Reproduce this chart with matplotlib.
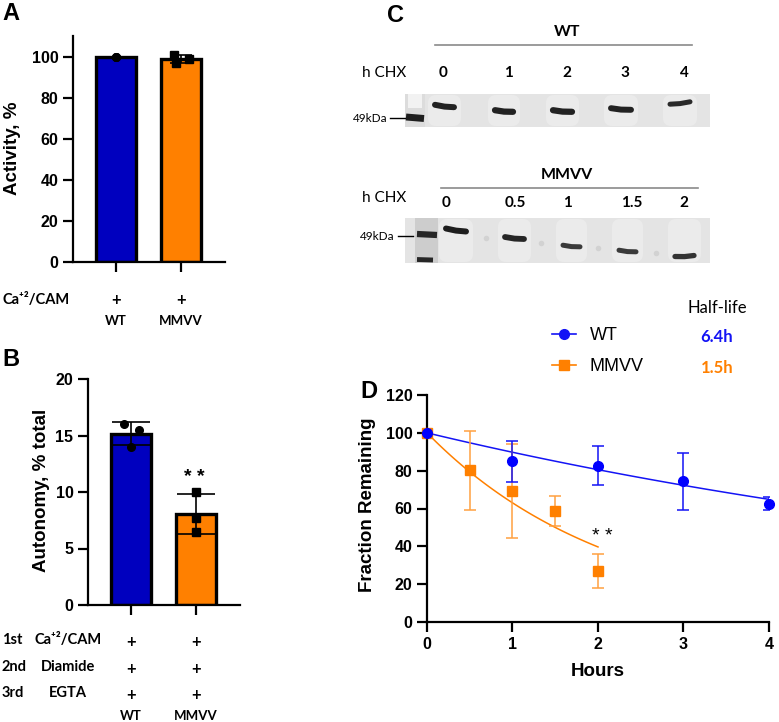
import numpy as np
import matplotlib.pyplot as plt
from matplotlib import transforms
from matplotlib.lines import Line2D
from matplotlib.patches import Rectangle, FancyBboxPatch

plt.rcParams['font.family'] = ['Liberation Sans', 'DejaVu Sans']

# ---- data ----
groups = ['WT', 'MMVV']

# A: kinase activity with Ca/CaM (% of WT)
act_wt = [100.0, 100.0, 100.0]
act_mmvv = [101.0, 97.0, 99.0]

# B: autonomy after Ca/CaM -> diamide -> EGTA (% total)
auto_wt = [16.0, 15.5, 14.0]
auto_mmvv = [10.0, 7.7, 6.5]

# C: CHX chase lanes (hours)
wt_lanes = ['0', '1', '2', '3', '4']
mmvv_lanes = ['0', '0.5', '1', '1.5', '2']

# D: fraction remaining after CHX
hours_wt = [0, 1, 2, 3, 4]
frac_wt = [100.0, 84.9, 82.7, 74.3, 62.5]
sd_wt = [0.0, 10.7, 10.3, 15.3, 3.5]
hours_mmvv = [0, 0.5, 1, 1.5, 2]
frac_mmvv = [100.0, 80.2, 69.2, 58.5, 27.0]
sd_mmvv = [0.0, 21.0, 24.7, 8.0, 9.0]
hl_wt = 6.4
hl_mmvv = 1.5

BLUE = '#0000BF'
ORANGE = '#FF8000'
LBLUE = '#1414F5'
LORANGE = '#FFA040'
CAL = ['Lato', 'DejaVu Sans']

W, H = 779, 722
fig = plt.figure(figsize=(W / 100, H / 100), dpi=100)


def px_axes(l, t, r, b):
    return fig.add_axes([l / W, 1 - b / H, (r - l) / W, (b - t) / H])


# overlay in pixel coords for labels / blots
ax0 = fig.add_axes([0, 0, 1, 1], zorder=0)
ax0.set_xlim(0, W)
ax0.set_ylim(H, 0)
ax0.axis('off')


def style_axes(ax, xticks, yticks, xlabels=True):
    for s in ['top', 'right']:
        ax.spines[s].set_visible(False)
    for s in ['left', 'bottom']:
        ax.spines[s].set_linewidth(1.6)
    ax.tick_params(axis='both', width=1.6, length=7)
    ax.set_yticks(yticks)
    ax.set_yticklabels([str(v) for v in yticks], fontsize=11.5, fontweight='bold')
    ax.set_xticks(xticks)
    if xlabels:
        ax.set_xticklabels([str(v) for v in xticks], fontsize=11.5, fontweight='bold')
    else:
        ax.set_xticklabels([])
    ax.patch.set_visible(False)


def bar_panel(ax, pts_list, markers, jit, ymax, yticks):
    x = np.arange(len(groups))
    means = [np.mean(p) for p in pts_list]
    sds = [np.std(p, ddof=1) for p in pts_list]
    ax.bar(x, means, width=0.61, color=[BLUE, ORANGE], edgecolor='black',
           linewidth=2.4, zorder=2)
    for i, pts in enumerate(pts_list):
        if sds[i] > 0:
            ax.errorbar(x[i], means[i], yerr=sds[i], color='black', lw=1.2,
                        capsize=14 if ymax < 50 else 8, capthick=1.2, zorder=3)
        ax.plot(x[i] + np.array(jit[i]), pts, markers[i], color='black', ms=5.5,
                zorder=4, clip_on=False)
    ax.set_xlim(-0.66, 1.68)
    ax.set_ylim(0, ymax)
    style_axes(ax, x, yticks, xlabels=False)
    return x, means


# ---- A ----
axA = px_axes(73, 36.4, 225, 262)
bar_panel(axA, [act_wt, act_mmvv], ['o', 's'], [[0, 0, 0], [-0.1, -0.08, 0.12]],
          110, [0, 20, 40, 60, 80, 100])
ax0.text(13, 148, 'Activity, %', rotation=90, ha='center', va='center',
         fontsize=13.5, fontweight='bold')
trA = transforms.blended_transform_factory(axA.transData, ax0.transData)
ax0.text(3, 300, 'Ca⁺²/CAM', ha='left', va='center', fontsize=10.5,
         fontweight='bold', family=CAL)
for i, g in enumerate(groups):
    ax0.text(i, 300, '+', transform=trA, ha='center', va='center',
             fontsize=12, fontweight='bold', family=CAL)
    ax0.text(i, 321, g, transform=trA, ha='center', va='center',
             fontsize=9.5, fontweight='bold', family=CAL)

# ---- B ----
axB = px_axes(88, 379, 240, 605)
xB, mB = bar_panel(axB, [auto_wt, auto_mmvv], ['o', 's'],
                   [[-0.1, 0.12, 0.0], [0, 0, 0]], 20, [0, 5, 10, 15, 20])
axB.text(0.98, 11.3, '* *', ha='center', va='center', fontsize=14, fontweight='bold')
ax0.text(42, 490, 'Autonomy, % total', rotation=90, ha='center', va='center',
         fontsize=13.5, fontweight='bold')
trB = transforms.blended_transform_factory(axB.transData, ax0.transData)
steps = ['1st', '2nd', '3rd']
agents = ['Ca⁺²/CAM', 'Diamide', 'EGTA']
rows_y = [640, 667, 693]
for s, a, y in zip(steps, agents, rows_y):
    ax0.text(2, y, s, ha='left', va='center', fontsize=10.5, fontweight='bold', family=CAL)
    ax0.text(68, y, a, ha='center', va='center', fontsize=10.5, fontweight='bold', family=CAL)
    for i in range(len(groups)):
        ax0.text(i, y + 2, '+', transform=trB, ha='center', va='center',
                 fontsize=12, fontweight='bold', family=CAL)
for i, g in enumerate(groups):
    ax0.text(i, 716, g, transform=trB, ha='center', va='center',
             fontsize=9.5, fontweight='bold', family=CAL)

# ---- C: western blots ----
def blot(box, bands, lanes, lane_x, lane_y, title, line, title_y, chx_y, kda_y, kda_r):
    l, t, r, b = box
    ax0.add_patch(Rectangle((l, t), r - l, b - t, color='#e4e4e4', lw=0, zorder=1))
    for (x0, x1, y, dy, lw, col) in bands:
        ax0.add_patch(FancyBboxPatch((x0 - 4, t + 1), x1 - x0 + 8, b - t - 2,
                                     boxstyle='round,pad=0,rounding_size=8',
                                     color='#ebebeb', lw=0, zorder=1.5))
        ax0.plot([x0 + 3, (x0 + x1) / 2, x1 - 3], [y - dy, y + 0.6, y + dy],
                 color=col, lw=lw, solid_capstyle='round', zorder=3)
    ax0.text(567, title_y, title, ha='center', va='center', fontsize=11.5,
             fontweight='bold', family=CAL)
    ax0.plot(line, [title_y + 13, title_y + 13], color='#8a8a8a', lw=1.2)
    ax0.text(406, chx_y, 'h CHX', ha='right', va='center', fontsize=11, family=CAL)
    for lab, x in zip(lanes, lane_x):
        ax0.text(x, lane_y, lab, ha='center', va='center', fontsize=11,
                 fontweight='bold', family=CAL)
    ax0.text(kda_r, kda_y, '49kDa', ha='right', va='center', fontsize=8.5, family=CAL)


blot((405, 94, 710, 127),
     [(432, 457, 106, 1.2, 4.3, '#222222'), (492, 516, 111, 0.8, 4.5, '#222222'),
      (550, 575, 111, 0.8, 4.5, '#222222'), (608, 634, 109, 0.8, 4.3, '#222222'),
      (667, 693, 103, -1.2, 3.6, '#2a2a2a')],
     wt_lanes, [443, 508, 567, 625, 684], 73, 'WT', [435, 692], 32, 73, 118, 388)
# ladder lane, blot 1
ax0.add_patch(Rectangle((405, 94), 20, 33, color='#dcdcdc', lw=0, zorder=1.6))
ax0.add_patch(Rectangle((408, 94), 14, 14, color='#f2f2f2', lw=0, zorder=1.7))
ax0.plot([406, 424], [117, 118.5], color='#1e1e1e', lw=5, solid_capstyle='butt', zorder=3)
ax0.plot([390, 405], [118, 118], color='black', lw=1.0)

blot((405, 218, 710, 263),
     [(443, 469, 230, 1.5, 4.3, '#1e1e1e'), (502, 527, 238, 1.0, 4.2, '#262626'),
      (560, 583, 246, 0.8, 3.6, '#3a3a3a'), (616, 639, 251, 0.8, 3.6, '#3a3a3a'),
      (672, 697, 256, -0.5, 3.8, '#333333')],
     mmvv_lanes, [446, 515, 567, 632, 684], 203, 'MMVV', [441, 698], 175, 198, 236, 395)
ax0.add_patch(Rectangle((415, 218), 23, 45, color='#cdcdcd', lw=0, zorder=1.6))
ax0.plot([417, 437], [234, 235], color='#262626', lw=4.5, solid_capstyle='butt', zorder=3)
ax0.plot([417, 433], [259.5, 260], color='#262626', lw=3.5, solid_capstyle='butt', zorder=3)
ax0.plot([398, 413], [236, 236], color='black', lw=1.0)
for sx, sy in [(486, 238), (541, 243), (598, 248), (656, 253)]:
    ax0.plot(sx, sy, 'o', ms=4, color='#d2d2d2', mew=0, zorder=2)

# ---- D ----
axD = px_axes(427, 395, 769, 622)
t_wt = np.linspace(0, max(hours_wt), 100)
t_mm = np.linspace(0, max(hours_mmvv), 100)
axD.plot(t_wt, 100 * 0.5 ** (t_wt / hl_wt), color=LBLUE, lw=1.1, zorder=2)
axD.plot(t_mm, 100 * 0.5 ** (t_mm / hl_mmvv), color=ORANGE, lw=1.1, zorder=2)
axD.errorbar(hours_mmvv[1:], frac_mmvv[1:], yerr=sd_mmvv[1:], fmt='none',
             ecolor=LORANGE, elinewidth=1.1, capsize=4, capthick=1.1, zorder=3)
axD.errorbar(hours_wt[1:], frac_wt[1:], yerr=sd_wt[1:], fmt='none',
             ecolor=LBLUE, elinewidth=1.1, capsize=4, capthick=1.1, zorder=3)
axD.plot(hours_mmvv, frac_mmvv, 's', color=ORANGE, ms=7, zorder=4, clip_on=False)
axD.plot(hours_wt, frac_wt, 'o', color='#0000FF', ms=7, zorder=5, clip_on=False)
axD.text(2.05, 45, '* *', ha='center', va='center', fontsize=14)
axD.set_xlim(0, 4)
axD.set_ylim(0, 120)
style_axes(axD, [0, 1, 2, 3, 4], [0, 20, 40, 60, 80, 100, 120])
axD.set_xlabel('Hours', fontsize=13.5, fontweight='bold', labelpad=8)
ax0.text(368, 505, 'Fraction Remaining', rotation=90, ha='center', va='center',
         fontsize=13.5, fontweight='bold')

handles = [Line2D([], [], color=LBLUE, marker='o', ms=7, lw=1.2),
           Line2D([], [], color=ORANGE, marker='s', ms=7, lw=1.2)]
fig.legend(handles, groups, loc='upper left', bbox_to_anchor=(552 / W, 1 - 327 / H),
           frameon=False, fontsize=13, handlelength=1.35, handletextpad=0.75,
           labelspacing=0.78, borderpad=0, borderaxespad=0)
ax0.text(717, 308, 'Half-life', ha='center', va='center', fontsize=12, family=CAL)
ax0.text(717, 337, f'{hl_wt}h', ha='center', va='center', fontsize=12,
         fontweight='bold', color=LBLUE, family=CAL)
ax0.text(717, 368, f'{hl_mmvv}h', ha='center', va='center', fontsize=12,
         fontweight='bold', color=ORANGE, family=CAL)

# panel letters
for lab, x, y in [('A', 2, 14), ('B', 2, 359), ('C', 387, 16), ('D', 360, 392)]:
    ax0.text(x, y, lab, ha='left', va='center', fontsize=17, fontweight='bold')

fig.savefig('out.png', dpi=100)
